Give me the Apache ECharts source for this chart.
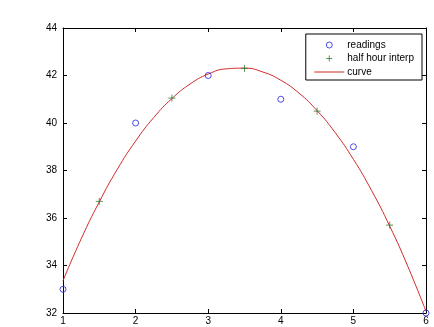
<!DOCTYPE html>
<html><head><meta charset="utf-8">
<script src="https://cdn.jsdelivr.net/npm/echarts@6/dist/echarts.min.js"></script>
<style>html,body{margin:0;padding:0;background:#fff}#c{width:434px;height:327px}</style>
</head><body><div id="c"></div>
<script>
const readingX = [1, 2, 3, 4, 5, 6];
const readingY = [33, 40, 42, 41, 39, 32];
const interpX = [1.5, 2.5, 3.5, 4.5, 5.5];
const interpY = [36.7, 41.05, 42.3, 40.5, 35.7];
const curveX = [1, 1.25, 1.5, 1.75, 2, 2.25, 2.5, 2.75, 3, 3.25, 3.5, 3.75, 4, 4.25, 4.5, 4.75, 5, 5.25, 5.5, 5.75, 6];
const curveY = [33.36, 35.12, 36.68, 38.06, 39.24, 40.23, 41.03, 41.64, 42.06, 42.28, 42.31, 42.15, 41.80, 41.26, 40.52, 39.59, 38.47, 37.16, 35.66, 33.96, 32.07];
const xTicks = [1, 2, 3, 4, 5, 6];
const yTicks = [32, 34, 36, 38, 40, 42, 44];
const seriesNames = ['readings', 'half hour interp', 'curve'];

const zip = (a, b) => a.map((v, i) => [v, b[i]]);
const font = 'Arial, "Liberation Sans", sans-serif';
const BLUE = '#2424e0', GREEN = '#2e7a2e', RED = '#d02a2a';
const circlePath = 'path://M10,5A5,5,0,1,1,0,5A5,5,0,1,1,10,5Z';
const crossPath = 'path://M0,5L10,5M5,0L5,10';
const axisCommon = {
  axisLine: {show: true, lineStyle: {color: '#000', width: 1}},
  axisTick: {show: true, inside: true, length: 4, lineStyle: {color: '#000'}},
  splitLine: {show: false}
};
const chart = echarts.init(document.getElementById('c'));
chart.setOption({
  animation: false,
  backgroundColor: '#fff',
  grid: {left: 63, right: 8, top: 28, bottom: 14, show: false},
  legend: {
    show: true,
    right: 12, top: 34,
    orient: 'vertical',
    backgroundColor: '#fff',
    borderColor: '#000', borderWidth: 1,
    padding: [3.5, 8, 0.5, 6],
    itemGap: -1.5,
    itemWidth: 30, itemHeight: 10,
    textStyle: {fontFamily: font, fontSize: 10, color: '#000', padding: [0, 0, 0, -2]},
    data: [
      {name: seriesNames[0], icon: 'path://M0,0M30,10M18,5A3,3,0,1,1,12,5A3,3,0,1,1,18,5Z',
        itemStyle: {color: 'none', borderColor: BLUE, borderWidth: 1}},
      {name: seriesNames[1], icon: 'path://M0,0M30,10M12,5L18,5M15,2L15,8',
        itemStyle: {color: 'none', borderColor: GREEN, borderWidth: 1}},
      {name: seriesNames[2], icon: 'path://M0,0M30,10M0,5L30,5',
        itemStyle: {color: 'none', borderColor: RED, borderWidth: 1}}
    ]
  },
  xAxis: [
    Object.assign({type: 'value', min: xTicks[0], max: xTicks[xTicks.length - 1], interval: 1, position: 'bottom',
      axisLabel: {fontFamily: font, fontSize: 10, color: '#000', margin: 3}}, axisCommon),
    Object.assign({type: 'value', min: xTicks[0], max: xTicks[xTicks.length - 1], interval: 1, position: 'top',
      axisLabel: {show: false}}, axisCommon)
  ],
  yAxis: [
    Object.assign({type: 'value', min: yTicks[0], max: yTicks[yTicks.length - 1], interval: 2, position: 'left',
      axisLabel: {fontFamily: font, fontSize: 10, color: '#000', margin: 6}}, axisCommon),
    Object.assign({type: 'value', min: yTicks[0], max: yTicks[yTicks.length - 1], interval: 2, position: 'right',
      axisLabel: {show: false}}, axisCommon)
  ],
  series: [
    {
      name: seriesNames[2], type: 'line', data: zip(curveX, curveY), smooth: true,
      showSymbol: false, symbol: 'none',
      lineStyle: {color: RED, width: 1}, itemStyle: {color: RED}, z: 2
    },
    {
      name: seriesNames[0], type: 'scatter', data: zip(readingX, readingY),
      symbol: circlePath, symbolSize: 6,
      itemStyle: {color: 'none', borderColor: BLUE, borderWidth: 1}, z: 3
    },
    {
      name: seriesNames[1], type: 'scatter', data: zip(interpX, interpY),
      symbol: crossPath, symbolSize: 7,
      itemStyle: {color: 'none', borderColor: GREEN, borderWidth: 1}, z: 3
    }
  ]
});
</script></body></html>
